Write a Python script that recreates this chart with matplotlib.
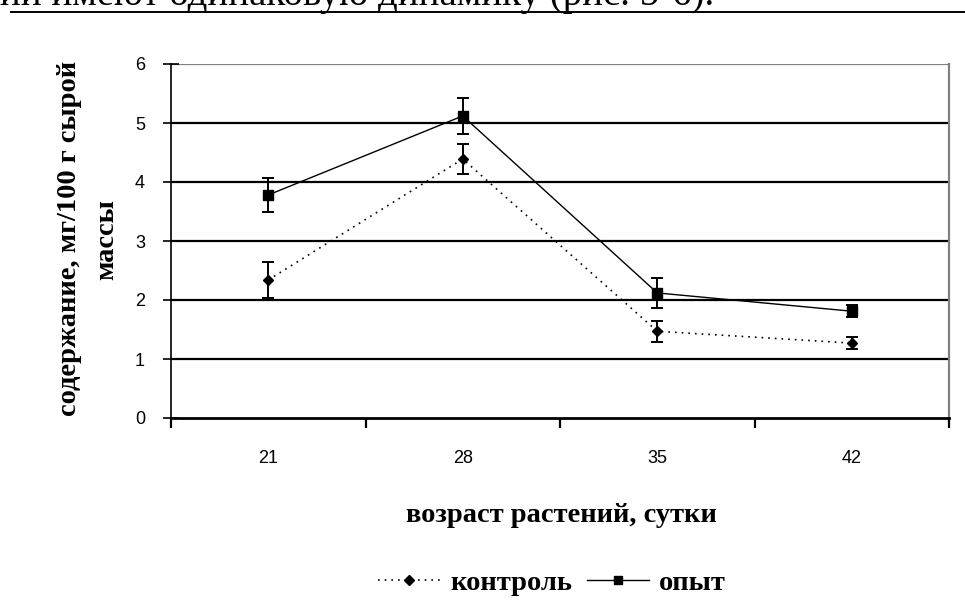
import matplotlib.pyplot as plt
import matplotlib.lines as mlines
import numpy as np

# data
days = ['21', '28', '35', '42']
control = [2.34, 4.39, 1.47, 1.27]
control_err = [0.30, 0.25, 0.18, 0.10]
opyt = [3.78, 5.12, 2.12, 1.81]
opyt_err = [0.28, 0.30, 0.25, 0.10]
yticks = [0, 1, 2, 3, 4, 5, 6]

serif = 'Liberation Serif'
sans = 'Liberation Sans'
title_size = 20.5

fig = plt.figure(figsize=(9.65, 6.08), dpi=100)
ax = fig.add_axes([171 / 965, 190 / 608, 778 / 965, 354 / 608])

x = np.arange(len(days))

# grid lines
for v in yticks[1:-1]:
    ax.axhline(v, color='black', lw=1.6, zorder=1)
ax.axhline(6, color='#808080', lw=1.6, zorder=1)

ax.errorbar(x, control, yerr=control_err, fmt='none', ecolor='black',
            elinewidth=1.4, capsize=4, capthick=1.4, zorder=3)
ax.errorbar(x, opyt, yerr=opyt_err, fmt='none', ecolor='black',
            elinewidth=1.4, capsize=4, capthick=1.4, zorder=3)
ax.plot(x, control, color='black', ls=(0, (1, 3)), lw=1.2,
        marker='D', ms=5.5, zorder=4)
ax.plot(x, opyt, color='black', ls='-', lw=1.0,
        marker='s', ms=7, zorder=4)

ax.set_xlim(-0.5, 3.5)
ax.set_ylim(0, 6)
ax.set_yticks(yticks)
ax.set_yticklabels([str(v) for v in yticks], fontfamily=sans, fontsize=13)
ax.tick_params(axis='y', direction='inout', length=11.5, width=1.2, pad=13)

ax.set_xticks(np.arange(-0.5, 4.0, 1.0))
ax.set_xticklabels([])
ax.set_xticks(x, minor=True)
ax.set_xticklabels(days, minor=True, fontfamily=sans, fontsize=13)
ax.tick_params(axis='x', which='major', direction='out', length=7, width=1.6)
ax.tick_params(axis='x', which='minor', length=0, pad=23)

ax.spines['top'].set_visible(False)
ax.spines['right'].set_color('#808080')
ax.spines['right'].set_linewidth(1.6)
ax.spines['left'].set_linewidth(1.2)
ax.spines['bottom'].set_linewidth(2.0)

# axis titles
fig.text(70 / 965, 1 - 238 / 608, 'содержание, мг/100 г сырой', rotation=90,
         ha='center', va='center', fontfamily=serif, fontweight='bold',
         fontsize=title_size)
fig.text(107 / 965, 1 - 240 / 608, 'массы', rotation=90,
         ha='center', va='center', fontfamily=serif, fontweight='bold',
         fontsize=title_size)
fig.text(561 / 965, 1 - 516 / 608, 'возраст растений, сутки',
         ha='center', va='center', fontfamily=serif, fontweight='bold',
         fontsize=title_size)

# legend
h1 = mlines.Line2D([], [], color='black', ls=(0, (1, 3)), lw=1.2, marker='D', ms=5)
h2 = mlines.Line2D([], [], color='black', ls='-', lw=1.0, marker='s', ms=5.5)
fig.legend([h1, h2], ['контроль', 'опыт'], loc='center', ncol=2,
           bbox_to_anchor=(552 / 965, 1 - 583 / 608), frameon=False,
           prop={'family': serif, 'weight': 'bold', 'size': title_size},
           handlelength=2.2, columnspacing=0.5, handletextpad=0.35,
           borderpad=0, borderaxespad=0)

# cut-off line of the page text above the chart
fig.text(714 / 965, 1 - 5 / 608, 'нии имеют одинаковую динамику (рис. 5-6).',
         ha='right', va='baseline', fontfamily=serif, fontsize=28)
fig.add_artist(mlines.Line2D([11 / 965, 1.0], [1 - 12 / 608, 1 - 12 / 608],
                             color='black', lw=1.4, transform=fig.transFigure))

fig.savefig('out.png', dpi=100)
